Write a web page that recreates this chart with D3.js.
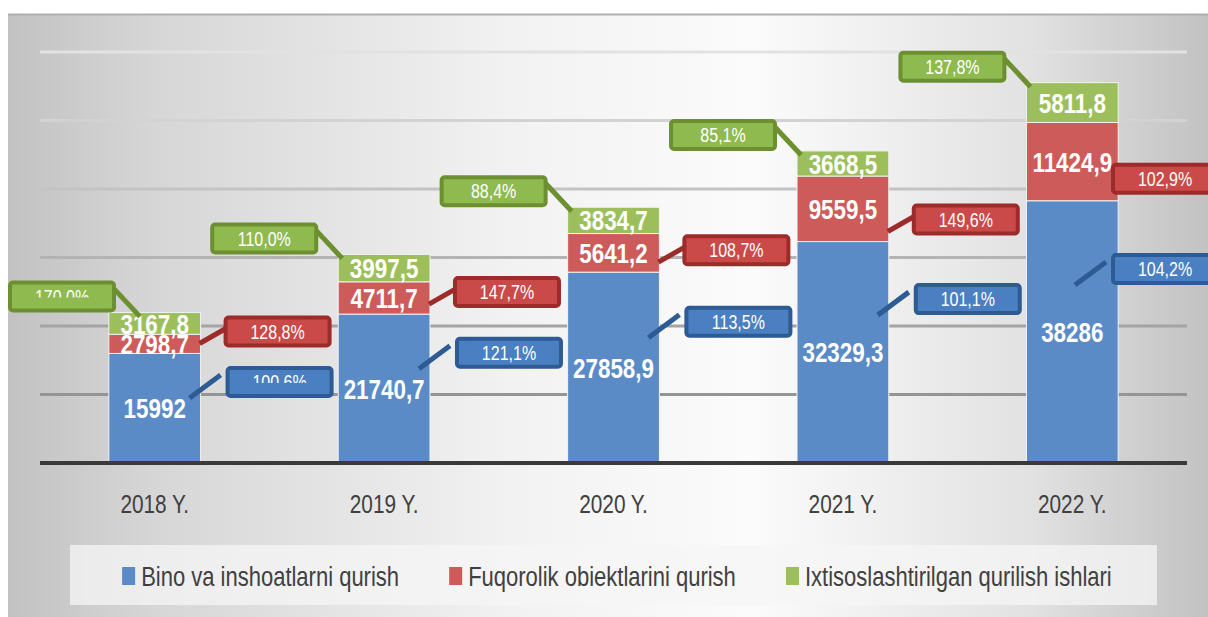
<!DOCTYPE html>
<html>
<head>
<meta charset="utf-8">
<script src="https://cdn.jsdelivr.net/npm/d3@7"></script>
<style>
  body { margin: 0; background: #ffffff; }
  svg { display: block; }
</style>
</head>
<body>
<svg id="chart"></svg>
<script>
// Chart data
const years = ["2018 Y.", "2019 Y.", "2020 Y.", "2021 Y.", "2022 Y."];
const seriesNames = ["Bino va inshoatlarni qurish", "Fuqorolik obiektlarini qurish", "Ixtisoslashtirilgan qurilish ishlari"];
const bino = [15992, 21740.7, 27858.9, 32329.3, 38286];
const fuqorolik = [2798.7, 4711.7, 5641.2, 9559.5, 11424.9];
const ixtisos = [3167.8, 3997.5, 3834.7, 3668.5, 5811.8];
const binoGrowth = ["100,6%", "121,1%", "113,5%", "101,1%", "104,2%"];
const fuqGrowth = ["128,8%", "147,7%", "108,7%", "149,6%", "102,9%"];
const ixtGrowth = ["170,0%", "110,0%", "88,4%", "85,1%", "137,8%"];
const yTicks = [0, 10000, 20000, 30000, 40000, 50000, 60000];

const width = 1208;
const height = 617;
// narrow look: Liberation Sans squeezed horizontally
const font = "'Liberation Sans', Arial, sans-serif";
const squeeze = 0.8;

const colors = ["#5a8bc7", "#cd5b59", "#9cbf5c"];
const boxFill = ["#4a7fc1", "#c94a48", "#8fba4f"];
const boxStroke = ["#2d5b93", "#9c2b2a", "#6c9030"];

const svg = d3.select("#chart")
    .attr("width", width)
    .attr("height", height)
    .style("font-family", font);

const defs = svg.append("defs");

// grey -> white -> grey background
const bg = defs.append("linearGradient").attr("id", "bgGrad")
    .attr("x1", "0%").attr("x2", "100%").attr("y1", "0%").attr("y2", "0%");
[[0, "#c2c2c2"], [0.12, "#d6d6d6"], [0.42, "#f2f2f2"], [0.62, "#fbfbfb"], [0.85, "#e2e2e2"], [1, "#c2c2c2"]]
    .forEach(s => bg.append("stop").attr("offset", s[0]).attr("stop-color", s[1]));

// gridlines get darker towards the bottom
const gg = defs.append("linearGradient").attr("id", "gridGrad")
    .attr("gradientUnits", "userSpaceOnUse")
    .attr("x1", 0).attr("x2", 0).attr("y1", 52).attr("y2", 463);
gg.append("stop").attr("offset", 0).attr("stop-color", "#e2e2e2");
gg.append("stop").attr("offset", 1).attr("stop-color", "#858585");

svg.append("rect")
    .attr("x", 8).attr("y", 14)
    .attr("width", width - 8).attr("height", height - 14)
    .attr("fill", "url(#bgGrad)");
svg.append("line")
    .attr("x1", 8).attr("x2", width).attr("y1", 14.5).attr("y2", 14.5)
    .attr("stroke", "#b0b0b0").attr("stroke-width", 2);

// scales
const x = d3.scaleBand().domain(years).range([40, 1187]).paddingInner(0.6).paddingOuter(0.3);
const y = d3.scaleLinear().domain([0, 60000]).range([463, 52]);

// gridlines
svg.selectAll(".grid")
    .data(yTicks.filter(t => t > 0))
    .enter()
    .append("line")
    .attr("class", "grid")
    .attr("x1", 40).attr("x2", 1187)
    .attr("y1", d => y(d)).attr("y2", d => y(d))
    .attr("stroke", "url(#gridGrad)")
    .attr("stroke-width", 3);

// stacked bars
const keys = ["s0", "s1", "s2"];
const rows = years.map((yr, i) => ({ year: yr, s0: bino[i], s1: fuqorolik[i], s2: ixtisos[i] }));
const stacked = d3.stack().keys(keys)(rows);

const layers = svg.selectAll(".layer")
    .data(stacked)
    .enter()
    .append("g")
    .attr("class", "layer")
    .attr("fill", (d, i) => colors[i]);

layers.selectAll("rect")
    .data(d => d)
    .enter()
    .append("rect")
    .attr("x", d => x(d.data.year))
    .attr("width", x.bandwidth())
    .attr("y", d => y(d[1]))
    .attr("height", d => y(d[0]) - y(d[1]))
    .attr("stroke", "#f2f2f2")
    .attr("stroke-width", 1);

// axis line + category labels
svg.append("line")
    .attr("x1", 40).attr("x2", 1187)
    .attr("y1", y(0)).attr("y2", y(0))
    .attr("stroke", "#3a3a3a").attr("stroke-width", 4);

const xAxis = svg.append("g")
    .attr("transform", `translate(0,${y(0)})`)
    .call(d3.axisBottom(x).tickSize(0));
xAxis.select(".domain").remove();
xAxis.selectAll("text")
    .attr("y", 41)
    .attr("dy", "0.35em")
    .attr("transform", `scale(${squeeze},1)`)
    .attr("fill", "#404040")
    .style("font-family", font)
    .style("font-size", "26px");

// value labels inside segments
const fmt = v => String(v).replace(".", ",");
layers.each(function(layer, si) {
    d3.select(this).selectAll(".val")
        .data(layer)
        .enter()
        .append("text")
        .attr("class", "val")
        .attr("transform", d => `translate(${x(d.data.year) + x.bandwidth() / 2},${(y(d[0]) + y(d[1])) / 2}) scale(${squeeze},1)`)
        .attr("dy", "0.36em")
        .attr("text-anchor", "middle")
        .attr("fill", "white")
        .style("font-weight", "bold")
        .style("font-size", "28px")
        .text(d => fmt(d.data[keys[si]]));
});

// Callouts
const boxW = 104, boxH = 28;
const callouts = [];
years.forEach((yr, i) => {
    const x0 = x(yr), x1 = x(yr) + x.bandwidth();
    const total = bino[i] + fuqorolik[i] + ixtisos[i];

    // blue
    let bl = Math.min(x1 + 27, width - 95);
    let cy = y(bino[i] * 0.74);
    callouts.push({ s: 0, i, left: bl, cy, text: binoGrowth[i],
        lead: [bl - 38, cy + 16, bl - 7, cy - 7] });

    // red
    bl = Math.min(x1 + 25, width - 95);
    cy = y(bino[i]) - 22;
    callouts.push({ s: 1, i, left: bl, cy, text: fuqGrowth[i],
        lead: [x1 - 1, cy + 12, bl + 2, cy - 4] });

    // green
    bl = Math.max(x0 - 22 - boxW, 10);
    cy = y(total) - 16;
    callouts.push({ s: 2, i, left: bl, cy, text: ixtGrowth[i],
        lead: [bl + boxW - 2, cy - boxH / 2 + 4, bl + boxW + 26, y(total) + 4] });
});

svg.selectAll(".leader")
    .data(callouts)
    .enter()
    .append("line")
    .attr("class", "leader")
    .attr("x1", d => d.lead[0]).attr("y1", d => d.lead[1])
    .attr("x2", d => d.lead[2]).attr("y2", d => d.lead[3])
    .attr("stroke", d => boxStroke[d.s])
    .attr("stroke-width", 5);

svg.selectAll(".cbox")
    .data(callouts)
    .enter()
    .append("rect")
    .attr("class", "cbox")
    .attr("x", d => d.left)
    .attr("y", d => d.cy - boxH / 2)
    .attr("width", boxW)
    .attr("height", boxH)
    .attr("rx", 3)
    .attr("fill", d => boxFill[d.s])
    .attr("stroke", d => boxStroke[d.s])
    .attr("stroke-width", 4);

// 2018 blue and green callout texts only show their upper half in the original
const halfShown = d => d.i === 0 && d.s !== 1;
callouts.filter(halfShown).forEach(d => {
    defs.append("clipPath").attr("id", `clip-${d.s}-${d.i}`)
        .append("rect")
        .attr("x", d.left).attr("y", d.cy - boxH / 2)
        .attr("width", boxW).attr("height", boxH / 2 + 1);
});

svg.selectAll(".ctext")
    .data(callouts)
    .enter()
    .append("g")
    .attr("class", "ctext")
    .attr("clip-path", d => halfShown(d) ? `url(#clip-${d.s}-${d.i})` : null)
    .append("text")
    .attr("transform", d => `translate(${d.left + boxW / 2},${d.cy}) scale(${squeeze},1)`)
    .attr("dy", "0.36em")
    .attr("text-anchor", "middle")
    .attr("fill", "white")
    .style("font-size", "20px")
    .text(d => d.text);

// Legend
svg.append("rect")
    .attr("x", 70).attr("y", 545)
    .attr("width", 1087).attr("height", 60)
    .attr("fill", "#f6f6f6")
    .attr("opacity", 0.75);

const legend = svg.append("g");
const items = legend.selectAll(".item")
    .data(seriesNames)
    .enter()
    .append("g")
    .attr("class", "item");

items.append("rect")
    .attr("width", 13).attr("height", 18)
    .attr("y", 567)
    .attr("fill", (d, i) => colors[i]);

items.append("text")
    .attr("dy", "0.36em")
    .attr("fill", "#404040")
    .style("font-size", "27.5px")
    .text(d => d);

const widths = [];
items.selectAll("text").each(function() { widths.push(this.getComputedTextLength() * squeeze); });
const gap = 50;
const total = widths.reduce((a, b) => a + b, 0) + widths.length * 19 + gap * (widths.length - 1);
let cx = 617 - total / 2;
items.each(function(d, i) {
    const g = d3.select(this);
    g.select("rect").attr("x", cx);
    g.select("text").attr("transform", `translate(${cx + 19},576) scale(${squeeze},1)`);
    cx += 19 + widths[i] + gap;
});
</script>
</body>
</html>
